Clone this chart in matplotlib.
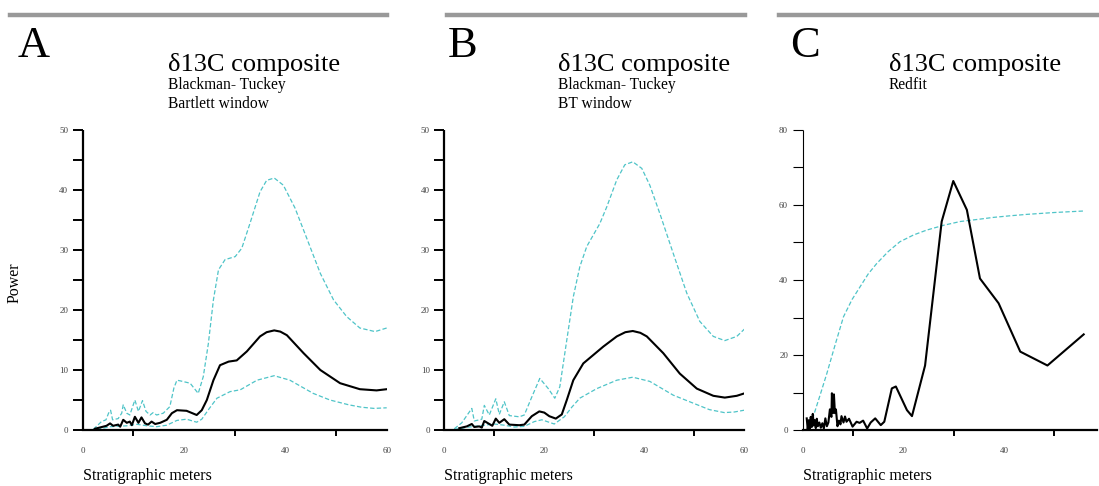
import numpy as np
import matplotlib
matplotlib.use("Agg")
import matplotlib.pyplot as plt
from matplotlib.ticker import MultipleLocator, FixedLocator

plt.rcParams['font.family'] = ['Liberation Serif', 'DejaVu Serif']

# ---- data ----
# panel A: Blackman-Tukey, Bartlett window
a_x = [2.4, 4.7, 5.4, 6.0, 7.0, 7.4, 8.0, 8.7, 9.3, 9.7, 10.3, 11.0, 11.6, 12.3, 12.9, 13.6, 14.3,
       15.3, 16.6, 17.6, 18.6, 20.5, 22.5, 23.5, 24.5, 25.8, 27.1, 28.8, 30.4, 32.4, 35.0,
       36.3, 37.8, 39.0, 40.3, 43.6, 46.9, 50.8, 54.7, 58.0, 60.0]
a_pow = [0.2, 0.7, 1.1, 0.7, 0.9, 0.55, 1.7, 1.2, 1.4, 0.8, 2.2, 1.2, 2.1, 1.1, 0.9, 1.4, 1.0,
         1.2, 1.7, 2.8, 3.3, 3.2, 2.5, 3.3, 5.0, 8.3, 10.8, 11.4, 11.6, 13.1, 15.6,
         16.3, 16.6, 16.4, 15.8, 12.8, 10.0, 7.8, 6.8, 6.6, 6.8]
a_up_x = [2.1, 3.7, 4.6, 5.1, 5.5, 5.9, 7.0, 7.7, 8.0, 8.7, 9.3, 10.3, 11.0, 11.8, 12.5, 13.3,
          13.9, 14.6, 15.9, 17.2, 18.0, 18.6, 19.2, 21.2, 22.8, 23.8, 24.8, 25.8, 26.8, 28.1,
          30.1, 31.4, 33.0, 35.0, 36.3, 37.8, 39.6, 41.9, 44.2, 46.9, 49.5, 52.1, 54.7,
          57.7, 60.0]
a_up = [0.1, 1.4, 1.7, 2.8, 3.3, 1.7, 1.9, 2.8, 4.2, 2.8, 2.5, 5.0, 3.1, 4.9, 3.1, 2.5,
        2.9, 2.5, 2.8, 3.9, 7.0, 8.3, 8.2, 7.8, 6.1, 8.9, 14.4, 21.7, 26.7, 28.4,
        28.9, 30.3, 34.4, 39.7, 41.6, 42.0, 40.8, 37.0, 32.0, 26.1, 21.7, 18.9, 17.0,
        16.4, 17.0]
a_lo_x = [2.8, 5.4, 8.7, 10.7, 12.7, 14.6, 16.6, 18.6, 20.5, 22.5, 23.5, 25.0, 26.5, 29.1,
          31.1, 34.4, 37.8, 40.9, 45.5, 48.8, 52.5, 55.0, 57.5, 60.0]
a_lo = [0.1, 0.55, 0.7, 0.95, 0.7, 0.55, 0.8, 1.6, 1.8, 1.3, 1.8, 3.6, 5.3, 6.4,
        6.7, 8.3, 9.05, 8.3, 6.1, 5.0, 4.2, 3.8, 3.6, 3.7]

# panel B: Blackman-Tukey, BT window
b_x = [3.0, 4.5, 5.5, 6.0, 7.0, 7.5, 8.0, 9.0, 9.6, 10.3, 11.0, 12.0, 13.0, 15.0, 16.0, 17.5,
       19.0, 20.0, 21.0, 22.3, 23.5, 24.5, 25.8, 27.8, 29.8, 31.8, 34.5, 36.2, 37.7, 39.2,
       40.5, 43.8, 47.1, 50.5, 53.8, 56.1, 58.5, 60.0]
b_pow = [0.3, 0.6, 1.0, 0.5, 0.6, 0.4, 1.5, 1.0, 0.7, 1.9, 1.2, 1.8, 0.9, 0.8, 0.9, 2.3,
         3.1, 2.9, 2.3, 1.9, 2.6, 5.0, 8.3, 11.1, 12.5, 13.9, 15.6, 16.3, 16.5, 16.2,
         15.6, 12.8, 9.4, 6.9, 5.7, 5.4, 5.7, 6.1]
b_up_x = [2.0, 3.5, 5.5, 6.0, 7.5, 8.0, 9.0, 10.3, 11.0, 12.0, 13.0, 15.0, 16.0, 17.5, 19.1,
          20.8, 22.1, 23.1, 24.5, 25.8, 27.1, 28.5, 29.8, 31.1, 32.5, 34.5, 36.1, 37.7, 39.5,
          41.1, 43.1, 45.8, 48.5, 51.1, 53.8, 56.1, 58.5, 60.0]
b_up = [0.2, 1.2, 3.6, 1.5, 1.8, 4.1, 2.5, 5.2, 2.6, 4.7, 2.4, 2.2, 2.5, 5.5, 8.6,
        6.9, 5.3, 7.2, 15.0, 22.2, 27.2, 30.6, 32.5, 34.4, 37.2, 41.7, 44.2, 44.7, 43.6,
        40.8, 36.1, 29.4, 22.8, 18.1, 15.6, 14.9, 15.6, 16.8]
b_lo_x = [2.0, 5.0, 8.0, 10.0, 12.0, 14.0, 16.0, 18.0, 19.5, 22.0, 24.0, 25.5, 27.1, 30.5,
          34.5, 37.7, 41.1, 45.8, 50.0, 53.0, 56.0, 58.0, 60.0]
b_lo = [0.1, 0.5, 0.8, 1.0, 0.8, 0.5, 0.6, 1.4, 1.7, 1.0, 2.2, 3.8, 5.3, 6.9,
        8.3, 8.8, 8.1, 5.8, 4.4, 3.4, 2.9, 3.0, 3.3]

# panel C: Redfit
c_x = [0.8, 1.0, 1.2, 1.4, 1.6, 1.8, 2.0, 2.2, 2.4, 2.6, 2.8, 3.0, 3.3, 3.6, 3.9, 4.2, 4.5,
       4.8, 5.1, 5.4, 5.7, 5.8, 6.0, 6.2, 6.4, 6.6, 6.9, 7.2, 7.5, 7.7, 8.1, 8.4, 8.7, 9.2,
       9.9, 10.7, 11.3, 12.0, 12.8, 13.5, 14.4, 15.5, 16.2, 17.7, 18.5, 20.7, 21.7, 24.3,
       27.6, 29.9, 32.6, 35.2, 38.9, 43.2, 48.6, 55.8]
c_pow = [3.1, 0.2, 2.6, 0.4, 3.5, 0.8, 4.3, 1.2, 2.6, 0.5, 3.0, 1.0, 2.0, 0.6, 1.8, 0.4, 3.1,
         1.0, 2.0, 5.5, 3.5, 9.8, 4.5, 9.5, 4.5, 5.5, 1.0, 2.5, 1.5, 3.7, 2.0, 3.6, 2.2, 3.0,
         0.9, 2.2, 1.9, 2.5, 0.4, 2.0, 3.1, 1.3, 2.2, 11.1, 11.6, 5.3, 3.7, 17.2,
         55.6, 66.4, 58.7, 40.4, 33.8, 20.9, 17.2, 25.5]
c_ci_x = [1.5, 2.1, 3.5, 4.8, 6.5, 8.1, 9.8, 11.4, 13.0, 14.7, 17.0, 19.3, 22.0, 24.6, 28.0,
          31.3, 35.0, 37.9, 41.0, 44.5, 50.0, 55.8]
c_ci = [1.3, 3.6, 9.5, 15.1, 23.0, 30.2, 34.8, 38.2, 41.6, 44.4, 47.6, 50.2, 52.0, 53.3, 54.6,
        55.6, 56.2, 56.7, 57.1, 57.5, 58.0, 58.4]

W, H = 1099, 486
CYAN = '#4fc4c8'
fig = plt.figure(figsize=(W / 100, H / 100), dpi=100)


def px(x, y):
    return x / W, 1 - y / H


def panel(left_px, width_px, xmax, ymax, ystep, thick=True):
    ax = fig.add_axes([left_px / W, (H - 430) / H, width_px / W, 300 / H])
    ax.set_xlim(0, xmax)
    ax.set_ylim(0, ymax)
    for s in ['top', 'right']:
        ax.spines[s].set_visible(False)
    ax.spines['left'].set_linewidth(1.6 if thick else 0.8)
    ax.spines['bottom'].set_linewidth(1.6)
    ax.spines['left'].set_capstyle('butt')
    ax.xaxis.set_major_locator(FixedLocator([v for v in [0, 20, 40, 60] if v <= xmax]))
    ax.xaxis.set_minor_locator(FixedLocator([10, 30, 50]))
    ax.yaxis.set_major_locator(MultipleLocator(ystep * 2))
    ax.yaxis.set_minor_locator(MultipleLocator(ystep))
    ax.tick_params(axis='x', which='major', length=0, pad=12, labelsize=6.5, labelcolor='#444444')
    ax.tick_params(axis='x', which='minor', length=4, width=1.4, direction='out')
    ax.tick_params(axis='y', which='both', length=7.5, width=1.4 if thick else 0.8,
                   direction='out', pad=3, labelsize=6.5, labelcolor='#444444')
    ax.patch.set_alpha(0)
    ax.text(0, -0.165, 'Stratigraphic meters', transform=ax.transAxes,
            fontsize=11.5, ha='left', va='baseline')
    return ax


dash = dict(color=CYAN, lw=0.9, dashes=(3.5, 1.8))
solid = dict(color='black', lw=1.5, solid_joinstyle='round')

axA = panel(82.7, 304, 60, 50, 5)
axA.plot(a_up_x, a_up, **dash)
axA.plot(a_lo_x, a_lo, **dash)
axA.plot(a_x, a_pow, **solid)

axB = panel(444.3, 300, 60, 50, 5)
axB.plot(b_up_x, b_up, **dash)
axB.plot(b_lo_x, b_lo, **dash)
axB.plot(b_x, b_pow, **solid)

axC = panel(802.7, 294.6, 58.5, 80, 10, thick=False)
axC.plot(c_ci_x, c_ci, **dash)
axC.plot(c_x, c_pow, **solid)

# header bars and titles
bars = [(10, 387), (447, 745), (779, 1099)]
for x0, x1 in bars:
    fig.add_artist(plt.Line2D([x0 / W, x1 / W], [1 - 15 / H] * 2, color='#999999', lw=3.2))

letters = [('A', 18), ('B', 448), ('C', 790)]
for lab, x in letters:
    fig.text(*px(x, 57), lab, fontsize=32, va='baseline', ha='left')

heads = [(168, 'Blackman- Tuckey', 'Bartlett window'),
         (558, 'Blackman- Tuckey', 'BT window'),
         (889, 'Redfit', None)]
for x, s1, s2 in heads:
    fig.text(*px(x, 71), 'δ13C composite', fontsize=19, va='baseline', ha='left')
    fig.text(*px(x, 89), s1, fontsize=11.2, va='baseline', ha='left')
    if s2:
        fig.text(*px(x, 108), s2, fontsize=11.2, va='baseline', ha='left')

fig.text(*px(15, 283), 'Power', rotation=90, fontsize=11.5, va='center', ha='center')

fig.savefig('out.png', dpi=100)
